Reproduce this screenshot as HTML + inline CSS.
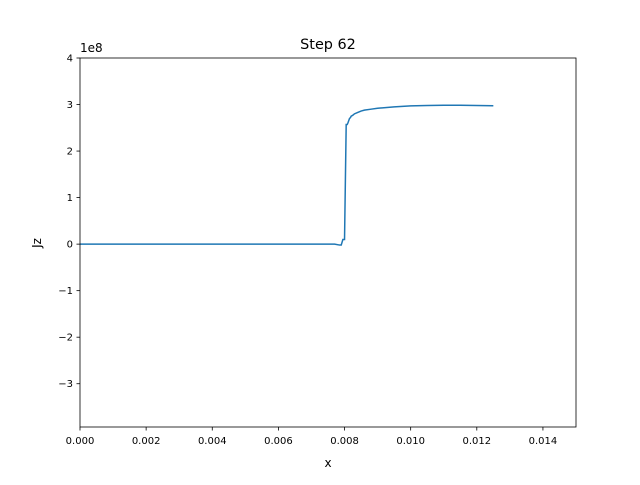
<!DOCTYPE html>
<html><head><meta charset="utf-8"><style>body{margin:0;background:#fff}svg text{font-family:"DejaVu Sans","Liberation Sans",sans-serif;fill:#000}</style></head>
<body>
<svg id="chart" width="640" height="480" xmlns="http://www.w3.org/2000/svg">
<rect width="640" height="480" fill="#fff"/>
<text x="328" y="49" font-size="14.4" text-anchor="middle">Step 62</text>
<text x="328" y="467" font-size="12" text-anchor="middle">x</text>
<text transform="translate(41,243) rotate(-90)" font-size="12" text-anchor="middle">Jz</text>
<text x="80" y="52" font-size="12">1e8</text>
<g id="ticks"></g>
<path id="line" fill="none" stroke="#1f77b4" stroke-width="1.5"/>
<rect x="80" y="58" width="496" height="369" fill="none" stroke="#000" stroke-width="0.8"/>
</svg>
<script>
const xData=[0,0.0077,0.00785,0.0079,0.00795,0.008,0.00805,0.00808,0.0081,0.00815,0.00818,0.0082,0.00825,0.0083,0.0084,0.0085,0.0086,0.0088,0.009,0.0095,0.010,0.0105,0.011,0.0115,0.012,0.0125];
const yData=[0,0,-0.02,-0.02,0.1,0.1,2.57,2.57,2.6,2.7,2.72,2.75,2.77,2.8,2.83,2.86,2.88,2.9,2.92,2.95,2.97,2.98,2.985,2.985,2.98,2.975];
const xTicks=[0,0.002,0.004,0.006,0.008,0.010,0.012,0.014];
const xTickLabels=["0.000","0.002","0.004","0.006","0.008","0.010","0.012","0.014"];
const yTicks=[-3,-2,-1,0,1,2,3,4];
const yTickLabels=["\u22123","\u22122","\u22121","0","1","2","3","4"];
const X0=80,X1=576,Y0=427,Y1=58,xmin=0,xmax=0.015,ymin=-3.93,ymax=4;
const sx=v=>X0+(v-xmin)/(xmax-xmin)*(X1-X0);
const sy=v=>Y0-(v-ymin)/(ymax-ymin)*(Y0-Y1);
const NS="http://www.w3.org/2000/svg";
const g=document.getElementById('ticks');
xTicks.forEach((t,i)=>{
 const l=document.createElementNS(NS,'line');
 l.setAttribute('x1',sx(t));l.setAttribute('x2',sx(t));l.setAttribute('y1',Y0);l.setAttribute('y2',Y0+3.5);l.setAttribute('stroke','#000');l.setAttribute('stroke-width','0.8');
 
 
 g.appendChild(l);
 const tx=document.createElementNS(NS,'text');
 tx.setAttribute('x',sx(t));tx.setAttribute('y',Y0+17);tx.setAttribute('font-size','10');tx.setAttribute('text-anchor','middle');
 tx.textContent=xTickLabels[i];
 
 
 g.appendChild(tx);
});
yTicks.forEach((t,i)=>{
 const l=document.createElementNS(NS,'line');
 l.setAttribute('x1',X0-3.5);l.setAttribute('x2',X0);l.setAttribute('y1',sy(t));l.setAttribute('y2',sy(t));l.setAttribute('stroke','#000');l.setAttribute('stroke-width','0.8');
 
 
 g.appendChild(l);
 const tx=document.createElementNS(NS,'text');
 tx.setAttribute('x',X0-7);tx.setAttribute('y',sy(t)+3.5);tx.setAttribute('font-size','10');tx.setAttribute('text-anchor','end');
 tx.textContent=yTickLabels[i];
 
 
 g.appendChild(tx);
});
document.getElementById('line').setAttribute('d',xData.map((x,i)=>(i?'L':'M')+sx(x).toFixed(2)+','+sy(yData[i]).toFixed(2)).join(' '));
</script>
</body></html>
